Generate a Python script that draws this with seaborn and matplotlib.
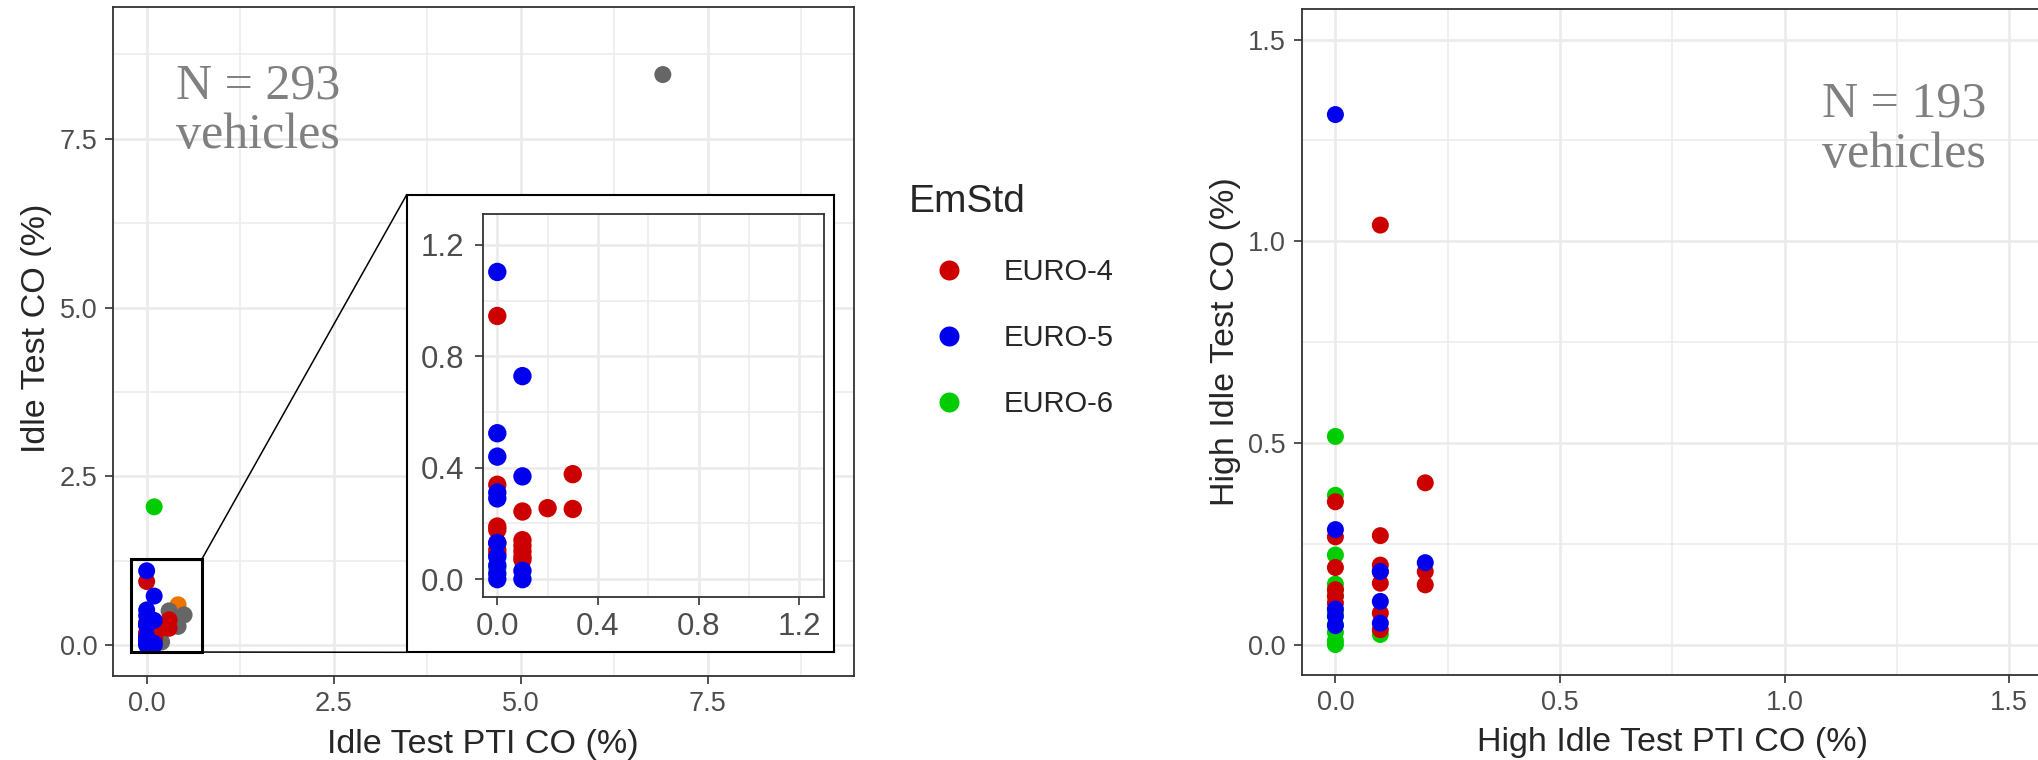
import numpy as np
import pandas as pd
import matplotlib
matplotlib.use("Agg")
import matplotlib.pyplot as plt
import seaborn as sns
from matplotlib.patches import Rectangle, ConnectionPatch
from matplotlib.lines import Line2D
from matplotlib.ticker import MultipleLocator, FormatStrFormatter

# ---------------- data ----------------
legend_groups = ["EURO-4", "EURO-5", "EURO-6"]
palette = {"EURO-4": "#CD0000", "EURO-5": "#0000EE", "EURO-6": "#00CD00",
           "Other": "#666666", "Other-B": "#EE7600"}

# Idle test (left panel)
idle_pti_e4 = [0, 0, 0, 0, 0, 0, 0, 0.1, 0.1, 0.1, 0.1, 0.1, 0.1, 0.2, 0.3, 0.3]
idle_co_e4 = [0.945, 0.339, 0.189, 0.177, 0.13, 0.105, 0.09, 0.243, 0.14, 0.12, 0.10, 0.08, 0.07, 0.255, 0.377, 0.252]
idle_pti_e5 = [0, 0, 0, 0, 0, 0, 0, 0, 0, 0, 0.1, 0.1, 0.1, 0.1]
idle_co_e5 = [1.103, 0.524, 0.44, 0.311, 0.29, 0.13, 0.08, 0.05, 0.02, 0.0, 0.729, 0.369, 0.03, 0.0]
idle_pti_e6 = [0, 0.1]
idle_co_e6 = [0.04, 2.05]
idle_pti_other = [6.9, 0.3, 0.5, 0.42, 0.0, 0.2, 0.1]
idle_co_other = [8.45, 0.51, 0.45, 0.28, 0.33, 0.05, 0.15]
idle_pti_otherb = [0.42]
idle_co_otherb = [0.60]

# High idle test (right panel)
hi_pti_e4 = [0, 0, 0, 0, 0, 0, 0.1, 0.1, 0.1, 0.1, 0.1, 0.1, 0.1, 0.2, 0.2, 0.2]
hi_co_e4 = [0.354, 0.267, 0.191, 0.136, 0.103, 0.12, 1.04, 0.27, 0.197, 0.181, 0.152, 0.078, 0.037, 0.401, 0.181, 0.148]
hi_pti_e5 = [0, 0, 0, 0, 0, 0.1, 0.1, 0.1, 0.2]
hi_co_e5 = [1.314, 0.285, 0.088, 0.047, 0.07, 0.181, 0.107, 0.053, 0.203]
hi_pti_e6 = [0, 0, 0, 0, 0, 0, 0, 0, 0, 0, 0, 0.1]
hi_co_e6 = [0.516, 0.37, 0.222, 0.15, 0.136, 0.12, 0.08, 0.05, 0.03, 0.01, 0.0, 0.025]

n_idle_label = "N = 293\nvehicles"
n_high_label = "N = 193\nvehicles"


def frame(xs, ys, name):
    return pd.DataFrame({"pti": xs, "co": ys, "EmStd": name})


idle_df = pd.concat([
    frame(idle_pti_otherb, idle_co_otherb, "Other-B"),
    frame(idle_pti_other, idle_co_other, "Other"),
    frame(idle_pti_e6, idle_co_e6, "EURO-6"),
    frame(idle_pti_e4, idle_co_e4, "EURO-4"),
    frame(idle_pti_e5, idle_co_e5, "EURO-5"),
], ignore_index=True)
idle_euro = idle_df[idle_df["EmStd"].isin(legend_groups)]

hi_df = pd.concat([
    frame(hi_pti_e6, hi_co_e6, "EURO-6"),
    frame(hi_pti_e4, hi_co_e4, "EURO-4"),
    frame(hi_pti_e5, hi_co_e5, "EURO-5"),
], ignore_index=True)

# ---------------- style ----------------
sns.set_style("white")
plt.rcParams["font.family"] = ["Liberation Sans", "DejaVu Sans"]

W, H = 2038, 760
fig = plt.figure(figsize=(W / 100, H / 100), dpi=100)


def px_axes(l, t, r, b):
    return [l / W, 1 - b / H, (r - l) / W, (b - t) / H]


GRID = "#EBEBEB"
FRAME = "#333333"
TICKC = "#4D4D4D"
SERIF = ["Liberation Serif", "DejaVu Serif"]


def style_axes(ax, major, lab_size, pad_x, pad_y):
    ax.xaxis.set_major_locator(MultipleLocator(major))
    ax.yaxis.set_major_locator(MultipleLocator(major))
    ax.xaxis.set_minor_locator(MultipleLocator(major / 2))
    ax.yaxis.set_minor_locator(MultipleLocator(major / 2))
    ax.xaxis.set_major_formatter(FormatStrFormatter("%.1f"))
    ax.yaxis.set_major_formatter(FormatStrFormatter("%.1f"))
    ax.set_axisbelow(True)
    ax.grid(which="major", color=GRID, lw=1.9)
    ax.grid(which="minor", color=GRID, lw=1.1)
    for s in ax.spines.values():
        s.set_color(FRAME)
        s.set_linewidth(1.3)
    ax.tick_params(which="major", length=5.8, width=1.2, color=FRAME,
                   labelsize=lab_size, labelcolor=TICKC, bottom=True, left=True)
    ax.tick_params(axis="x", pad=pad_x)
    ax.tick_params(axis="y", pad=pad_y)
    ax.tick_params(which="minor", length=0)
    ax.set_facecolor("white")


# ---- left main panel ----
ax1 = fig.add_axes(px_axes(113, 7, 853.6, 675.7))
sns.scatterplot(data=idle_df, x="pti", y="co", hue="EmStd", palette=palette,
                s=150, linewidth=0, legend=False, ax=ax1, zorder=3)
ax1.set_xlim(-0.45, 9.45)
ax1.set_ylim(-0.45, 9.45)
style_axes(ax1, 2.5, 19.5, 5, 5.5)
ax1.set_xlabel("Idle Test PTI CO (%)", fontsize=24.5)
ax1.set_ylabel("Idle Test CO (%)", fontsize=24.5)
ax1.xaxis.set_label_coords(0.5, -0.079)
ax1.yaxis.set_label_coords(-0.082, 0.52)
ax1.text(1.49, 7.36, n_idle_label, ha="center", va="baseline", fontsize=36,
         family=SERIF, color="#808080", linespacing=1.1)

# zoom box
ax1.add_patch(Rectangle((-0.21, -0.10), 0.95, 1.38, fill=False, ec="black", lw=2.2, zorder=4))

# ---- inset outer box ----
axb = fig.add_axes(px_axes(406.7, 194.7, 834.3, 652.3), zorder=5)
axb.set_facecolor("white")
axb.set_xticks([])
axb.set_yticks([])
for s in axb.spines.values():
    s.set_color("black")
    s.set_linewidth(1.5)

# ---- inset inner axes ----
axi = fig.add_axes(px_axes(482.7, 214.3, 824.3, 597), zorder=6)
sns.scatterplot(data=idle_euro, x="pti", y="co", hue="EmStd", palette=palette,
                s=175, linewidth=0, legend=False, ax=axi, zorder=3)
axi.set_xlim(-0.058, 1.30)
axi.set_ylim(-0.064, 1.31)
style_axes(axi, 0.4, 22.5, 5, 7.5)
axi.set_xlabel("")
axi.set_ylabel("")

for xyA, xyB in [((0.74, 1.28), (0, 1)), ((0.74, -0.10), (0, 0))]:
    con = ConnectionPatch(xyA=xyA, coordsA="data", axesA=ax1,
                          xyB=xyB, coordsB="axes fraction", axesB=axb,
                          color="black", lw=1.1, zorder=4)
    fig.add_artist(con)

# ---- right panel ----
ax2 = fig.add_axes(px_axes(1301.7, 9.3, 2043, 674.8))
sns.scatterplot(data=hi_df, x="pti", y="co", hue="EmStd", palette=palette,
                s=150, linewidth=0, legend=False, ax=ax2, zorder=3)
ax2.set_xlim(-0.075, 1.575)
ax2.set_ylim(-0.075, 1.575)
style_axes(ax2, 0.5, 19.5, 5, 5.5)
ax2.set_xlabel("High Idle Test PTI CO (%)", fontsize=24.5)
ax2.set_ylabel("High Idle Test CO (%)", fontsize=24.5)
ax2.xaxis.set_label_coords(0.5, -0.079)
ax2.yaxis.set_label_coords(-0.082, 0.5)
ax2.text(1.266, 1.185, n_high_label, ha="center", va="baseline", fontsize=36,
         family=SERIF, color="#808080", linespacing=1.1)

# ---- legend ----
handles = [Line2D([], [], marker="o", ls="", color=palette[g], markersize=14.4,
                  markeredgewidth=0) for g in legend_groups]
leg = fig.legend(handles, legend_groups, title="EmStd", loc="upper left",
                 bbox_to_anchor=(909 / W, 1 - 184 / H), frameon=False,
                 fontsize=21, title_fontsize=28, handlelength=2.74,
                 handletextpad=0.5, labelspacing=1.3, borderpad=0,
                 borderaxespad=0, alignment="left")

fig.savefig("out.png", dpi=100, facecolor="white")
